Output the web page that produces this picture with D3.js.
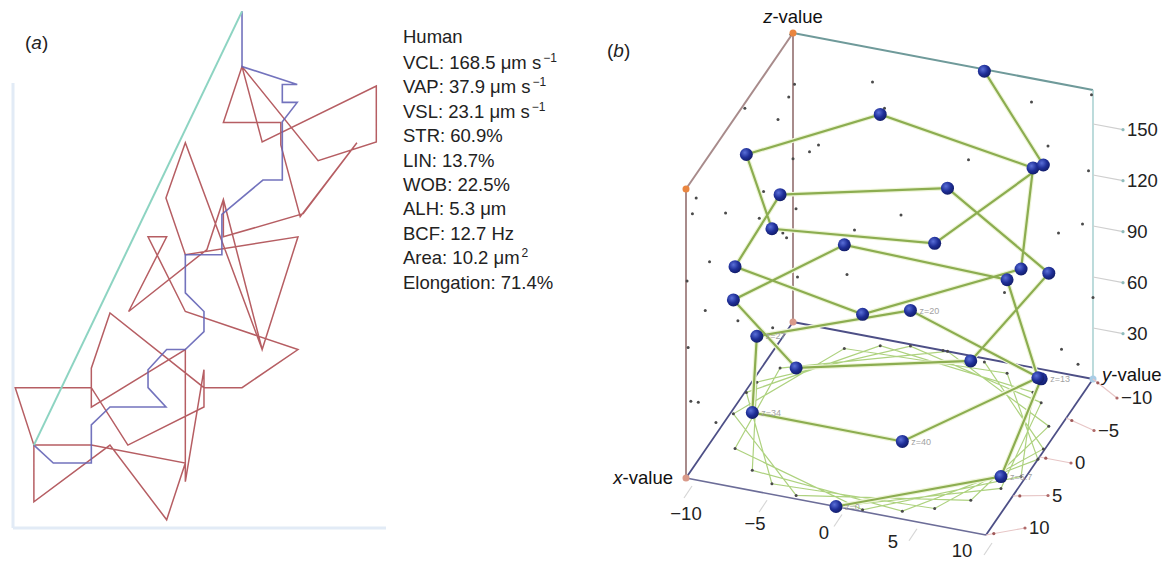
<!DOCTYPE html>
<html>
<head>
<meta charset="utf-8">
<script src="https://cdn.jsdelivr.net/npm/d3@7"></script>
<style>
  body { margin: 0; background: #fff; }
  svg { display: block; }
  text { font-family: "Liberation Sans", Arial, Helvetica, sans-serif; }
</style>
</head>
<body>
<svg id="chart"></svg>
<script>
// ---- panel (a): sperm track, values in µm ----
// curvilinear path (VCL)
const vclX = [30.7, 33.4, 48.7, 48.7, 40.9, 30.7, 28.2, 35.9, 35.9, 38.5, 46.1, 38.9, 28.2, 28.2, 33.4, 38.2,
              23.1, 20.5, 23.1, 33.4, 28.2, 26.0, 15.5, 20.6, 18.1, 23.1, 38.2, 30.7, 25.6, 13.0, 10.5, 10.5,
              23.1, 23.1, 20.6, 13.0, 2.8, 2.8, 10.5, 23.1, 23.1, 25.6, 25.6, 15.4, 10.5, 0.3, 2.8];
const vclY = [61.8, 51.7, 59.2, 51.7, 49.2, 61.8, 54.3, 54.3, 51.3, 41.7, 51.6, 42.1, 39.0, 44.0, 23.9, 39.0,
              36.6, 44.2, 51.6, 23.9, 44.0, 37.3, 29.0, 39.0, 39.0, 29.0, 23.9, 18.8, 18.8, 28.8, 21.4, 16.2,
              23.9, 8.7, 1.1, 11.1, 3.5, 11.1, 11.1, 8.7, 6.2, 21.2, 16.2, 11.1, 18.8, 18.8, 11.1];
// average path (VAP)
const vapX = [30.7, 30.7, 38.1, 36.1, 36.1, 38.1, 36.1, 36.1, 33.5, 28.0, 28.0, 23.1, 23.1, 25.6, 25.6,
              23.1, 20.6, 18.1, 18.1, 20.5, 13.0, 10.5, 10.5, 5.4, 2.8];
const vapY = [69.2, 61.8, 59.4, 59.4, 57.0, 57.0, 54.4, 46.6, 46.6, 42.0, 36.6, 36.6, 31.5, 29.0, 26.3,
              23.9, 23.9, 21.2, 18.8, 16.2, 16.2, 13.8, 8.7, 8.7, 11.1];
// straight line (VSL)
const vslX = [30.7, 2.8];
const vslY = [69.2, 11.1];

const statNames  = ["VCL", "VAP", "VSL", "STR", "LIN", "WOB", "ALH", "BCF", "Area", "Elongation"];
const statValues = ["168.5", "37.9", "23.1", "60.9", "13.7", "22.5", "5.3", "12.7", "10.2", "71.4"];
const statUnits  = [" \u03bcm s", " \u03bcm s", " \u03bcm s", "%", "%", "%", " \u03bcm", " Hz", " \u03bcm", "%"];
const statSup    = ["\u22121", "\u22121", "\u22121", "", "", "", "", "", "2", ""];

// ---- panel (b): 3D head positions ----
const headX = [0.0, 9.0, 7.9, -2.1, -9.7, -6.4, 4.1, 10.0, 4.7, -5.9, -9.8, -2.8, 7.7,
               9.3, 0.3, -8.9, -8.3, 1.7, 9.7, 7.0, -3.9, -9.9, -4.7, 5.9, 9.9, 2.9];
const headY = [10.0, 4.4, -6.2, -9.8, -2.4, 7.7, 9.1, 0.3, -8.8, -8.1, 1.7, 9.6, 6.4,
               -3.7, -10.0, -4.5, 5.6, 9.8, 2.6, -7.2, -9.2, -1.0, 8.8, 8.1, -1.0, -9.6];
const headZ = [0, 7, 14, 21, 27, 34, 41, 48, 55, 61, 67, 75, 82,
               90, 96, 102, 107, 115, 122, 132, 136, 140, 150, 156, 167, 171];
const headLabels = ["z=0", "z=6.7", "z=13", "z=20", "z=27", "z=34", "z=40"];

const xTicks = [-10, -5, 0, 5, 10];
const yTicks = [-10, -5, 0, 5, 10];
const zTicks = [30, 60, 90, 120, 150];

const fmt = v => v < 0 ? "\u2212" + Math.abs(v) : String(v);

const svg = d3.select("#chart")
    .attr("width", 1170)
    .attr("height", 561)
    .style("background", "#fff");

// ================= panel (a) =================
const xA = d3.scaleLinear().domain([0, 50]).range([13, 386]);
const yA = d3.scaleLinear().domain([0, 59.6]).range([528, 83]);

const pa = svg.append("g");

// faint axes
pa.append("line")
    .attr("x1", xA(0)).attr("x2", xA(0))
    .attr("y1", yA(0)).attr("y2", yA(59.6))
    .attr("stroke", "#e2ebf6").attr("stroke-width", 3);
pa.append("line")
    .attr("x1", xA(0)).attr("x2", xA(50))
    .attr("y1", yA(0)).attr("y2", yA(0))
    .attr("stroke", "#e2ebf6").attr("stroke-width", 3);

const lineA = d3.line().x(d => xA(d[0])).y(d => yA(d[1]));

pa.append("path")
    .attr("d", lineA(d3.zip(vclX, vclY)))
    .attr("fill", "none")
    .attr("stroke", "#b65e63")
    .attr("stroke-width", 1.5);

pa.append("path")
    .attr("d", lineA(d3.zip(vapX, vapY)))
    .attr("fill", "none")
    .attr("stroke", "#6464b6")
    .attr("stroke-opacity", 0.9)
    .attr("stroke-width", 1.6);

pa.append("path")
    .attr("d", lineA(d3.zip(vslX, vslY)))
    .attr("fill", "none")
    .attr("stroke", "#8dd4c2")
    .attr("stroke-width", 2);

svg.append("text")
    .attr("x", 25).attr("y", 49)
    .attr("font-size", 19).attr("fill", "#222")
    .call(t => {
        t.append("tspan").text("(");
        t.append("tspan").attr("font-style", "italic").text("a");
        t.append("tspan").text(")");
    });

// stats block
const stats = svg.append("g").attr("font-size", 18.5).attr("fill", "#222");
stats.append("text").attr("x", 403).attr("y", 43).text("Human");
statNames.forEach((n, i) => {
    const t = stats.append("text").attr("x", 403).attr("y", 69 + i * 24.4);
    t.append("tspan").text(`${n}: ${statValues[i]}${statUnits[i]}`);
    if (statSup[i]) {
        t.append("tspan").attr("font-size", 12).attr("dx", 2).attr("dy", -7).text(statSup[i]);
    }
});

// ================= panel (b) =================
// oblique projection of the (x, y, z) box
const unit = d3.scaleLinear().domain([-10, 10]).range([0, 1]);
const zS = d3.scaleLinear().domain([0, 170]).range([0, 289]);
const floorO = [793, 322];          // x=-10, y=-10, z=0
const xVec = [300, 57], yVec = [-107, 156];
function proj(x, y, z) {
    const t = unit(x), u = unit(y);
    return [floorO[0] + t * xVec[0] + u * yVec[0],
            floorO[1] + t * xVec[1] + u * yVec[1] - zS(z)];
}

const pb = svg.append("g");
const seg = (a, b, color, w) => {
    const p = proj(...a), q = proj(...b);
    pb.append("line")
        .attr("x1", p[0]).attr("y1", p[1]).attr("x2", q[0]).attr("y2", q[1])
        .attr("stroke", color).attr("stroke-width", w);
};

const zTop = 170;
// walls
seg([-10, 10, 0], [-10, 10, zTop], "#a88b8b", 2);
seg([-10, 10, zTop], [-10, -10, zTop], "#a88b8b", 2);
seg([-10, -10, 0], [-10, -10, zTop], "#a88b8b", 2);
seg([-10, -10, zTop], [10, -10, zTop], "#6f9a9a", 2);
seg([10, -10, 0], [10, -10, zTop], "#acd3d3", 1.6);

// floor projection of the track
const pts = d3.range(headX.length).map(i => ({x: headX[i], y: headY[i], z: headZ[i]}));
const line2 = d3.line();
pb.append("path")
    .attr("d", line2(pts.map(d => proj(d.x, d.y, 0))))
    .attr("fill", "none")
    .attr("stroke", "#aed27f")
    .attr("stroke-width", 1.2);

// floor edges
seg([-10, -10, 0], [10, -10, 0], "#4d4f86", 1.8);
seg([-10, 10, 0], [-10, -10, 0], "#4d4f86", 1.8);
seg([-10, 10, 0], [10, 10, 0], "#6c6d98", 1.6);
seg([10, 10, 0], [10, -10, 0], "#4d4f86", 1.8);

// projections on floor and on the two back walls
const dots = pb.append("g").attr("fill", "#4a4a4a");
pts.forEach(d => {
    [proj(d.x, d.y, 0), proj(-10, d.y, d.z), proj(d.x, -10, d.z)].forEach(p => {
        dots.append("circle").attr("cx", p[0]).attr("cy", p[1]).attr("r", 1.5);
    });
});

// corner markers
[[-10, 10, zTop, "#ea8640"], [-10, -10, zTop, "#ea8640"],
 [-10, 10, 0, "#d99a8a"], [-10, -10, 0, "#d99a8a"], [10, -10, 0, "#a9cde6"]].forEach(c => {
    const p = proj(c[0], c[1], c[2]);
    pb.append("circle").attr("cx", p[0]).attr("cy", p[1]).attr("r", 3.5).attr("fill", c[3]);
});

// z ticks
zTicks.forEach(z => {
    const a = proj(10, -10, z), b = proj(12, -10, z);
    pb.append("line").attr("x1", a[0]).attr("y1", a[1]).attr("x2", b[0]).attr("y2", b[1])
        .attr("stroke", "#cfcfcf").attr("stroke-width", 1.2);
    pb.append("circle").attr("cx", b[0]).attr("cy", b[1]).attr("r", 1.6).attr("fill", "#8fbcbc");
    pb.append("text").attr("x", b[0] + 4).attr("y", b[1]).attr("dy", "0.35em")
        .attr("font-size", 18.5).attr("fill", "#222").text(z);
});

// y ticks (the tick direction bends with the camera's perspective)
yTicks.forEach(y => {
    const a = proj(10, y, 0), k = unit(y);
    const b = [a[0] + 24 + 15 * k, a[1] + 19 - 26 * k];
    pb.append("line").attr("x1", a[0]).attr("y1", a[1]).attr("x2", b[0]).attr("y2", b[1])
        .attr("stroke", "#e7c6c6").attr("stroke-width", 1.2);
    pb.append("circle").attr("cx", a[0] + (b[0] - a[0]) * 0.2).attr("cy", a[1] + (b[1] - a[1]) * 0.2)
        .attr("r", 1.6).attr("fill", "#a05a5a");
    pb.append("circle").attr("cx", b[0]).attr("cy", b[1]).attr("r", 1.6).attr("fill", "#b06a6a");
    pb.append("text").attr("x", b[0] + 4).attr("y", b[1]).attr("dy", "0.35em")
        .attr("font-size", 18.5).attr("fill", "#222").text(fmt(y));
});

// x ticks
xTicks.forEach(x => {
    const a = proj(x, 10, 0);
    const k = unit(x);
    pb.append("line").attr("x1", a[0] + 6).attr("y1", a[1] + 8).attr("x2", a[0] - 2).attr("y2", a[1] + 20)
        .attr("stroke", "#d6d6d6").attr("stroke-width", 1.2);
    pb.append("text")
        .attr("x", a[0] - k * 24).attr("y", a[1] + 36 - k * 20).attr("dy", "0.35em")
        .attr("text-anchor", "middle")
        .attr("font-size", 18.5).attr("fill", "#222").text(fmt(x));
});

// the 3D track
const track = pts.map(d => proj(d.x, d.y, d.z));
pb.append("path")
    .attr("d", line2(track))
    .attr("fill", "none")
    .attr("stroke", "#eef5d8")
    .attr("stroke-width", 4.5);
pb.append("path")
    .attr("d", line2(track))
    .attr("fill", "none")
    .attr("stroke", "#8cad50")
    .attr("stroke-width", 2.2);

const defs = svg.append("defs");
const grad = defs.append("radialGradient").attr("id", "ball")
    .attr("cx", 0.38).attr("cy", 0.35).attr("r", 0.7);
grad.append("stop").attr("offset", 0).attr("stop-color", "#5a6fd8");
grad.append("stop").attr("offset", 0.55).attr("stop-color", "#1f2f98");
grad.append("stop").attr("offset", 1).attr("stop-color", "#111b64");

pb.append("g").selectAll("circle")
    .data(track)
    .enter().append("circle")
    .attr("cx", d => d[0])
    .attr("cy", d => d[1])
    .attr("r", 6.5)
    .attr("fill", "url(#ball)");

headLabels.forEach((l, i) => {
    pb.append("text")
        .attr("x", track[i][0] + 9).attr("y", track[i][1]).attr("dy", "0.35em")
        .attr("font-size", 9).attr("fill", "#a2a2a2").text(l);
});

// axis names
const axisName = (p, anchor, letter, dx, dy) => {
    const t = pb.append("text")
        .attr("x", p[0] + dx).attr("y", p[1] + dy)
        .attr("text-anchor", anchor)
        .attr("font-size", 18.5).attr("fill", "#111");
    t.append("tspan").attr("font-style", "italic").text(letter);
    t.append("tspan").text("-value");
};
axisName(proj(-10, -10, zTop), "middle", "z", 0, -10);
axisName(proj(-10, 10, 0), "end", "x", -13, 6);
axisName(proj(10, -10, 0), "start", "y", 9, 2);

svg.append("text")
    .attr("x", 607).attr("y", 57)
    .attr("font-size", 19).attr("fill", "#222")
    .call(t => {
        t.append("tspan").text("(");
        t.append("tspan").attr("font-style", "italic").text("b");
        t.append("tspan").text(")");
    });
</script>
</body>
</html>
